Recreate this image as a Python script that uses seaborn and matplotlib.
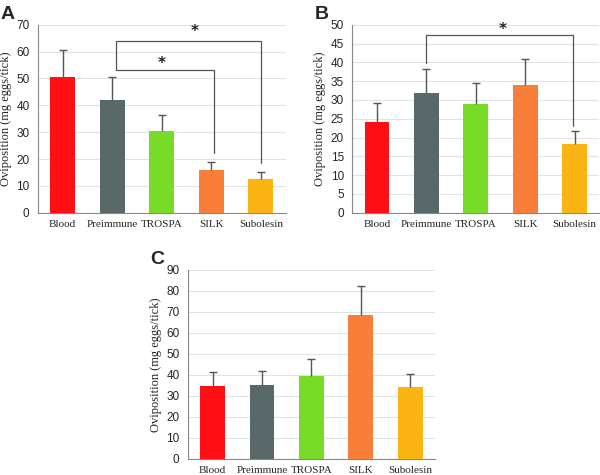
import numpy as np
import pandas as pd
import seaborn as sns
import matplotlib.pyplot as plt

# groups and colours
groups = ['Blood', 'Preimmune', 'TROSPA', 'SILK', 'Subolesin']
colors = ['#FF0F14', '#596869', '#77DB27', '#F87E3A', '#FBB414']

# oviposition means and upper error bar ends
mean_a = [50.5, 42.0, 30.3, 15.8, 12.6]
upper_a = [60.7, 50.4, 36.5, 19.0, 15.2]
mean_b = [24.2, 31.9, 28.8, 34.0, 18.2]
upper_b = [29.2, 38.3, 34.6, 41.0, 21.8]
mean_c = [34.5, 35.0, 39.5, 68.5, 34.0]
upper_c = [41.5, 42.0, 47.5, 82.5, 40.5]

sns.set_style('white')
serif = ['Liberation Serif', 'DejaVu Serif']
sansf = ['Liberation Sans', 'DejaVu Sans']

fig = plt.figure(figsize=(6, 4.75), dpi=100)


def panel(rect, means, uppers, ymax, ystep, label):
    ax = fig.add_axes(rect)
    df = pd.DataFrame({'group': groups, 'value': means})
    sns.barplot(data=df, x='group', y='value', hue='group', palette=colors,
                width=0.5, errorbar=None, legend=False, ax=ax, saturation=1,
                linewidth=0, zorder=3)
    # upper-only error bars: stem plus cap at the top end
    ax.vlines(range(5), means, uppers, color='#555555', lw=1, zorder=4)
    ax.scatter(range(5), uppers, marker='_', s=30, color='#555555',
               linewidths=1, zorder=4)
    ax.set_xlim(-0.5, 4.5)
    ax.set_ylim(0, ymax)
    ax.set_yticks(np.arange(0, ymax + 0.1, ystep))
    ax.yaxis.grid(True, color='#DCE4E6', linewidth=0.8, zorder=0)
    ax.set_axisbelow(True)
    for s in ['top', 'right']:
        ax.spines[s].set_visible(False)
    for s in ['left', 'bottom']:
        ax.spines[s].set_color('#888888')
        ax.spines[s].set_linewidth(0.8)
    ax.set_xticks(range(5))
    ax.set_xticklabels(groups, family=serif, fontsize=8)
    ax.tick_params(axis='x', length=0, pad=5)
    ax.set_xticks(np.arange(-0.5, 5, 1), minor=True)
    ax.tick_params(axis='x', which='minor', length=4, color='#888888')
    ax.tick_params(axis='y', length=4, color='#888888', labelsize=8.5, pad=2)
    for t in ax.get_yticklabels():
        t.set_family(sansf)
    ax.set_xlabel('')
    ax.set_ylabel('Oviposition (mg eggs/tick)', family=serif, fontsize=9,
                  labelpad=3)
    fig.text(rect[0] - 0.062, rect[1] + rect[3] + 0.022, label,
             family=sansf, fontsize=14, fontweight='bold', va='center')
    return ax


def bracket(ax, x1, x2, y, y1, y2, sx, sy):
    ax.plot([x1, x1, x2, x2], [y1, y, y, y2], color='#555555', lw=0.9,
            clip_on=False, zorder=5)
    ax.text(sx, sy, '*', ha='center', va='center', fontsize=11,
            fontweight='bold', color='#222222')


ax_a = panel([0.063, 0.552, 0.413, 0.396], mean_a, upper_a, 70, 10, 'A')
bracket(ax_a, 1.07, 4.0, 63.8, 53.0, 18.4, 2.67, 67.3)
bracket(ax_a, 1.07, 3.05, 53.0, 53.0, 22.3, 2.0, 55.6)

ax_b = panel([0.587, 0.552, 0.412, 0.396], mean_b, upper_b, 50, 5, 'B')
bracket(ax_b, 1.0, 3.97, 47.2, 39.9, 23.2, 2.55, 48.6)

ax_c = panel([0.313, 0.034, 0.412, 0.398], mean_c, upper_c, 90, 10, 'C')

fig.savefig('out.png', dpi=100)
